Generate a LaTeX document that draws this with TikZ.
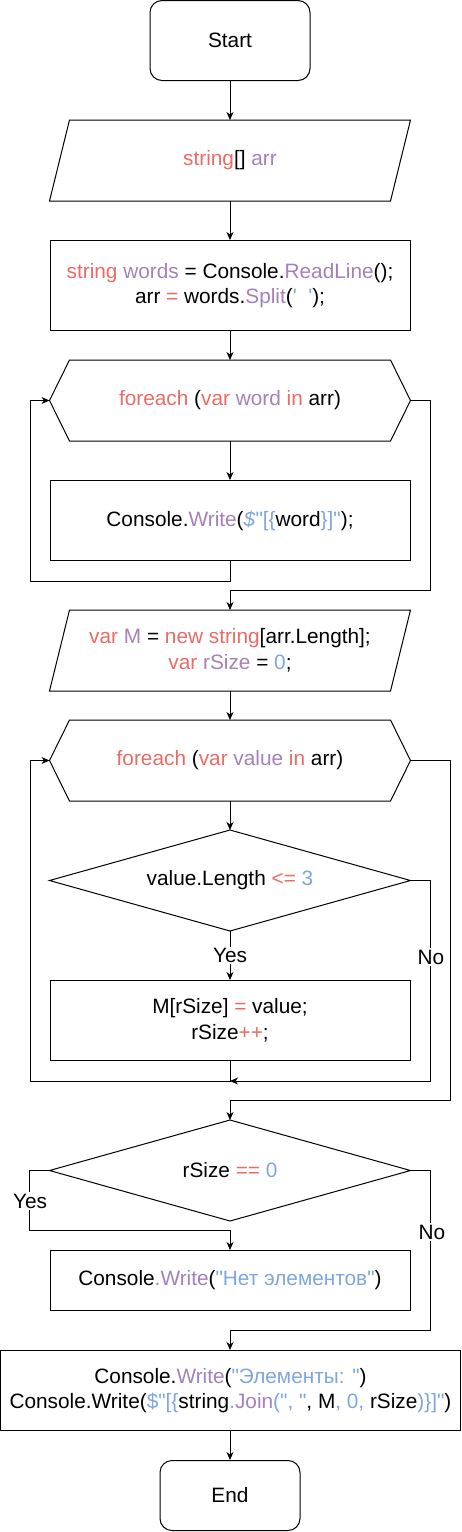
\documentclass[tikz,border=0pt]{standalone}
\usepackage{fontspec}
\setmainfont{Liberation Sans}[Ligatures=TeXOff]
\usetikzlibrary{arrows.meta,calc}
\definecolor{kwred}{HTML}{EA6B66}
\definecolor{kwpur}{HTML}{A680B8}
\definecolor{kwblu}{HTML}{7EA6E0}
\newcommand{\kwr}[1]{\textcolor{kwred}{#1}}
\newcommand{\kwp}[1]{\textcolor{kwpur}{#1}}
\newcommand{\kwb}[1]{\textcolor{kwblu}{#1}}
\begin{document}
\begin{tikzpicture}[x=1pt,y=-1pt,line width=1pt,
  every node/.style={font=\fontsize{20.8pt}{25.7pt}\selectfont, align=center, inner sep=0pt},
  box/.style={draw, minimum width=360pt, minimum height=80pt},
  term/.style={draw, rounded corners=12pt},
  shp/.style={minimum width=360pt, minimum height=80pt},
  arr/.style={-{Stealth[length=8pt,width=7pt,inset=2.5pt]}},
  lbl/.style={fill=white, inner sep=1.5pt}]
\useasboundingbox (0,0) rectangle (462,1532);

% nodes
\node[term, minimum width=160pt, minimum height=80pt] (start) at (230,40.5) {Start};
\node[shp] (inp) at (230,160.5) {\kwr{string}[] \kwp{arr}};
\node[box, minimum height=90pt] (read) at (230,285.5)
  {\kwr{string} \kwp{words} = Console.\kwp{ReadLine}();\\
   arr \kwr{=} words.\kwp{Split}(\kwb{\symbol{39}\ \ \symbol{39}});};
\node[shp] (loop1) at (230,400.5) {\kwr{foreach} (\kwr{var} \kwp{word} \kwr{in} arr)};
\node[box] (write1) at (230,520.5) {Console.\kwp{Write}(\kwb{\textit{\$}"[\{}word\kwb{\}]"});};
\node[shp] (decl) at (230,650.5) {\kwr{var} \kwp{M} = \kwr{new string}[arr.Length];\\ \kwr{var} \kwp{rSize} = \kwb{0};};
\node[shp] (loop2) at (230,760.5) {\kwr{foreach} (\kwr{var} \kwp{value} \kwr{in} arr)};
\node[shp, minimum height=100pt] (cond1) at (230,880.5) {value.Length \kwr{<=} \kwb{3}};
\node[box] (assign) at (230,1020.5) {M[rSize] \kwr{=} value;\\ rSize\kwr{++};};
\node[shp, minimum height=100pt] (cond2) at (230,1170.5) {rSize \kwr{==} \kwb{0}};
\node[box, minimum height=60pt] (empty) at (230,1280.5) {Console\kwp{.Write}(\kwb{"Нет элементов"})};
\node[box, minimum width=460pt] (out) at (230.5,1390.5)
  {Console.\kwp{Write}(\kwb{"Элементы: "})\\
   Console.Write(\kwb{\$"[\{}string\kwb{.}\kwp{Join}\kwb{(", "}, M\kwb{, 0,} rSize\kwb{)\}]"})};
\node[term, minimum width=140pt, minimum height=70pt] (end) at (230,1495.5) {End};

% special outlines
\draw ([xshift=20pt]inp.north west) -- (inp.north east) -- ([xshift=-20pt]inp.south east) -- (inp.south west) -- cycle;
\draw ([xshift=20pt]decl.north west) -- (decl.north east) -- ([xshift=-20pt]decl.south east) -- (decl.south west) -- cycle;
\foreach \h in {loop1,loop2}{
  \draw (\h.west) -- ([xshift=20pt]\h.north west) -- ([xshift=-20pt]\h.north east) -- (\h.east)
        -- ([xshift=-20pt]\h.south east) -- ([xshift=20pt]\h.south west) -- cycle;}
\foreach \d in {cond1,cond2}{
  \draw (\d.west) -- (\d.north) -- (\d.east) -- (\d.south) -- cycle;}

% connectors
\draw[arr] (start) -- (inp);
\draw[arr] (inp) -- (read);
\draw[arr] (read) -- (loop1);
\draw[arr] (loop1) -- (write1);
\draw[arr] (write1.south) -- ++(0,20) -- ++(-200,0) |- (loop1.west);
\draw[arr] (loop1.east) -- ++(20,0) |- ($(decl.north)+(0,-20)$) -- (decl.north);
\draw[arr] (decl) -- (loop2);
\draw[arr] (loop2) -- (cond1);
\draw[arr] (cond1.south) -- (assign.north) node[lbl, midway] (yes1) {Yes};
\coordinate (j2) at ($(assign.south)+(0,20)$);
\draw[arr] (assign.south) -- (j2) -- ++(-200,0) |- (loop2.west);
\draw[arr] (cond1.east) -- ++(20,0) |- (j2);
\node[lbl] (no1) at (431,957) {No};
\draw[arr] (loop2.east) -- ++(40,0) |- ($(cond2.north)+(0,-20)$) -- (cond2.north);
\draw[arr] (cond2.west) -- ++(-20,0) |- ($(empty.north)+(0,-20)$) -- (empty.north);
\node[lbl] (yes2) at (30,1201) {Yes};
\draw[arr] (cond2.east) -- ++(20,0) |- ($(out.north)+(-0.5,-20)$) -- ([xshift=-0.5pt]out.north);
\node[lbl] (no2) at (432,1232) {No};
\draw[arr] ([xshift=-0.5pt]out.south) -- (end.north);
\end{tikzpicture}
\end{document}
